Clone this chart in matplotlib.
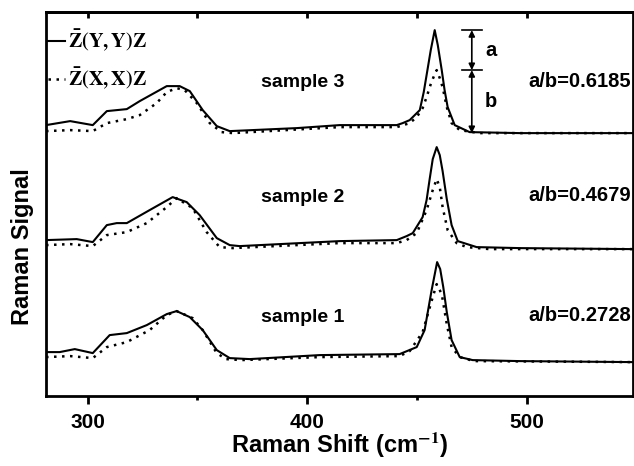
import numpy as np
import matplotlib
matplotlib.use('Agg')
from matplotlib import pyplot as plt
from matplotlib.ticker import MultipleLocator

plt.rcParams['font.family'] = 'Liberation Sans'
plt.rcParams['font.weight'] = 'bold'
plt.rcParams['mathtext.fontset'] = 'stix'

# Raman shift (cm-1) and signal above each trace's baseline
x1_yy = [281, 287.2, 294.1, 302.3, 310, 317.8, 326.9, 336, 340.5, 346.5, 352.4, 358.8, 364.7, 373.8,
         405.7, 442.1, 449.9, 453.5, 456.7, 459.2, 460.6, 462, 463.6, 465.8, 469.5, 475.4, 496.8, 548]
y1_yy = [10, 10, 13, 9, 27, 29, 37, 48, 51, 45, 32, 12, 4, 3,
         7, 8, 15, 32, 72, 100, 93, 75, 50, 22, 5, 2, 1, 0]
x1_xx = [281, 292, 302.3, 308.7, 317.8, 328.2, 336, 340.5, 347.8, 352.4, 358.8, 363, 370,
         405.7, 442.1, 446.7, 452.6, 457.2, 459, 461.3, 463.6, 465.8, 469.5, 476, 548]
y1_xx = [5, 6, 4, 15, 20, 32, 47, 51, 44, 32, 9, 3, 2,
         5, 6, 11, 30, 65, 78, 68, 38, 15, 5, 1, 0]

x2_yy = [281, 295, 302.3, 308.7, 313.2, 317.8, 328.2, 338.7, 345.1, 351, 358.8, 364.7, 369.2,
         414.8, 440.8, 445.3, 448.1, 452.6, 454.4, 455.8, 457.2, 459, 460.4, 461.7, 463.6, 465.8,
         468.6, 477.2, 496.8, 548]
y2_yy = [9, 10, 7, 24, 26, 26, 39, 52, 47, 34, 11, 4, 3,
         8, 9, 13, 16, 32, 49, 70, 90, 102, 94, 78, 50, 24,
         8, 2, 1, 0]
x2_xx = [281, 292, 302.3, 308.7, 317.8, 326.9, 336, 340.5, 347.8, 354.2, 360.1, 366.1,
         414.8, 440.8, 445.3, 449.9, 454.4, 457.2, 459, 460.4, 461.7, 464, 468.1, 472.7, 483, 548]
y2_xx = [4, 5, 3, 14, 17, 26, 42, 51, 41, 17, 2, 1,
         6, 6, 9, 16, 39, 59, 70, 62, 42, 19, 6, 2, 0, 0]

x3_yy = [281, 292, 302.3, 308.7, 317.8, 323.7, 336, 341.9, 346.5, 352.4, 358.8, 364.7,
         395.2, 414.8, 440.8, 443.5, 446.7, 451.3, 453.1, 454.4, 456.3, 458.1, 459.5, 461.3,
         462.6, 464.0, 467.2, 474.0, 496.8, 548]
y3_yy = [8, 12, 8, 22, 24, 32, 47, 47, 42, 23, 7, 2,
         5, 8, 8, 10, 13, 23, 41, 58, 83, 103, 88, 63,
         43, 26, 8, 1, 0, 0]
x3_xx = [281, 292, 302.3, 308.7, 317.8, 323.7, 331.4, 336, 340.5, 344.2, 349.7, 355.6, 361,
         366.1, 414.8, 440.8, 446.7, 449.9, 452.6, 454.4, 456.3, 458.1, 459, 460.4, 461.7,
         463.6, 465.8, 469.5, 478.6, 548]
y3_xx = [2, 3, 2, 10, 14, 18, 30, 41, 45, 43, 30, 10, 1,
         0, 6, 6, 10, 16, 25, 36, 49, 59, 63, 55, 46,
         26, 10, 3, 0, 0]

offsets = [34, 147, 263]
names = ['sample 1', 'sample 2', 'sample 3']
ratios = ['a/b=0.2728', 'a/b=0.4679', 'a/b=0.6185']
yy = [(x1_yy, y1_yy), (x2_yy, y2_yy), (x3_yy, y3_yy)]
xx = [(x1_xx, y1_xx), (x2_xx, y2_xx), (x3_xx, y3_xx)]

fig = plt.figure(figsize=(6.34, 4.66), dpi=100)
ax = fig.add_axes([0.0726, 0.150, 0.926, 0.824])

for i in range(3):
    off = offsets[i]
    l1, = ax.plot(yy[i][0], np.array(yy[i][1]) + off, 'k-', lw=1.5)
    l2, = ax.plot(xx[i][0], np.array(xx[i][1]) + off, 'k', lw=1.8, dashes=(1, 2.2))
    ax.text(398, off + [45, 52, 51][i], names[i], ha='center', va='center', fontsize=14)
    ax.text(501, off + [47, 54, 52][i], ratios[i], ha='left', va='center', fontsize=14.5)

# a / b marks on sample 3
off = offsets[2]
top = off + max(y3_yy)
mid = off + max(y3_xx)
xa = 475
for yv in (top, mid):
    ax.plot([470.5, 479.5], [yv, yv], 'k-', lw=1.2)
ap = dict(arrowstyle='<|-|>', color='k', lw=1.2, mutation_scale=9, shrinkA=0, shrinkB=0)
ax.annotate('', xy=(xa, top), xytext=(xa, mid), arrowprops=ap)
ax.annotate('', xy=(xa, mid), xytext=(xa, off), arrowprops=ap)
ax.text(481, (top + mid) / 2, 'a', ha='left', va='center', fontsize=14.5)
ax.text(481, (mid + off) / 2, 'b', ha='left', va='center', fontsize=14.5)

leg = ax.legend([l1, l2], [r'$\mathbf{\bar{Z}(Y,Y)Z}$', r'$\mathbf{\bar{Z}(X,X)Z}$'],
                loc='upper left', bbox_to_anchor=(0.0, 0.965), frameon=False,
                handlelength=0.85, handletextpad=0.15, labelspacing=0.6,
                borderaxespad=0.0, borderpad=0.1, fontsize=14.5)

ax.set_xlim(281, 548.5)
ax.set_ylim(0, 384)
ax.set_yticks([])
ax.xaxis.set_major_locator(MultipleLocator(100))
ax.xaxis.set_minor_locator(MultipleLocator(50))
ax.tick_params(axis='x', which='major', direction='out', length=6, width=2, labelsize=15, pad=6)
ax.tick_params(axis='x', which='minor', direction='out', length=3, width=2)
for lab in ax.get_xticklabels():
    lab.set_fontweight('bold')
for s in ax.spines.values():
    s.set_linewidth(2)

sec = ax.secondary_xaxis('top')
sec.xaxis.set_major_locator(MultipleLocator(50))
sec.tick_params(axis='x', direction='in', length=4, width=2, labeltop=False)
sec.spines['top'].set_linewidth(2)

ax.set_xlabel('Raman Shift (cm$^{\\mathbf{-1}}$)', fontsize=17, fontweight='bold', labelpad=-1)
ax.set_ylabel('Raman Signal', fontsize=17, fontweight='bold')
ax.yaxis.set_label_coords(-0.02, 0.388)

plt.savefig('out.png', dpi=100)
